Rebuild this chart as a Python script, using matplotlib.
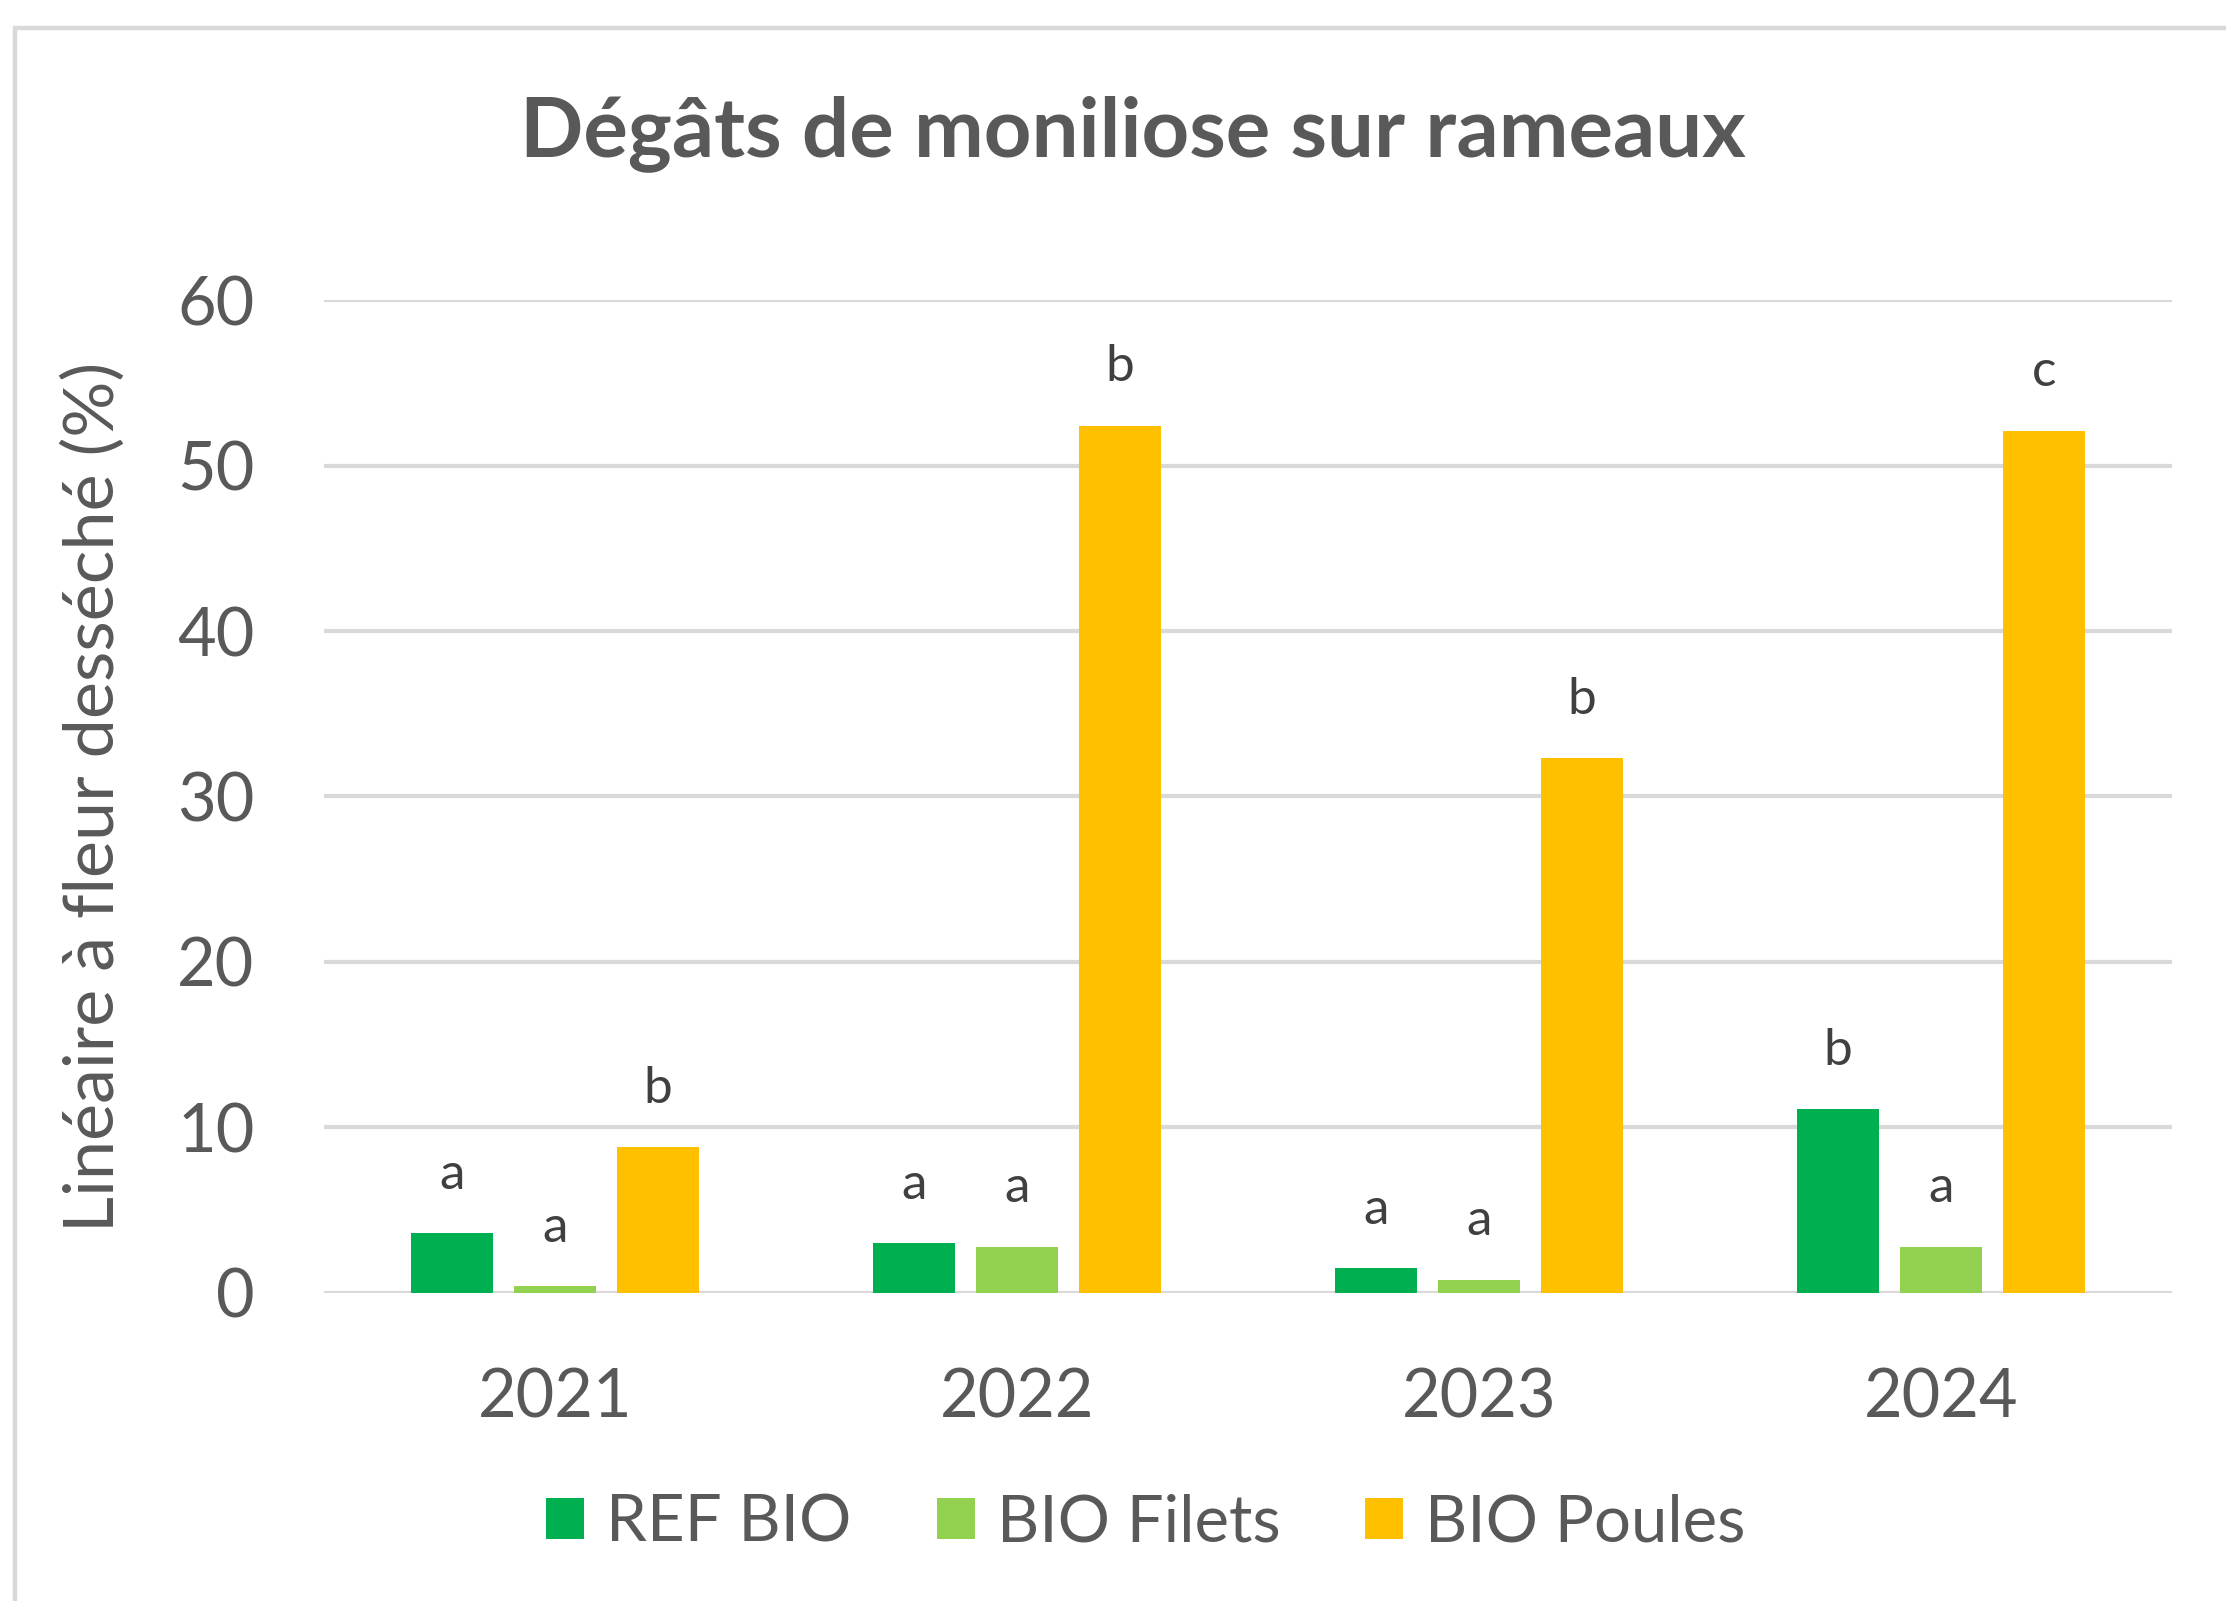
import matplotlib.pyplot as plt
import matplotlib.patches as mpatches
import numpy as np

plt.rcParams['font.family'] = ['Lato', 'DejaVu Sans']

# Data
years = ['2021', '2022', '2023', '2024']
series = ['REF BIO', 'BIO Filets', 'BIO Poules']
ref_bio = [3.6, 3.0, 1.5, 11.1]
bio_filets = [0.4, 2.8, 0.8, 2.8]
bio_poules = [8.8, 52.4, 32.3, 52.1]
letters_ref = ['a', 'a', 'a', 'b']
letters_filets = ['a', 'a', 'a', 'a']
letters_poules = ['b', 'b', 'b', 'c']

colors = ['#00B050', '#92D050', '#FFC000']
grey = '#595959'

fig = plt.figure(figsize=(22.26, 16.01), dpi=100)
ax = fig.add_axes([0.1455, 0.1924, 0.8302, 0.6202])

# chart border (cut off on the right and bottom)
border = mpatches.Rectangle((15/2226, -0.1), 1.2, 1 - 28/1601 + 0.1,
                            transform=fig.transFigure, fill=False,
                            edgecolor='#d9d9d9', lw=3.2, clip_on=False)
fig.patches.append(border)

x = np.arange(len(years))
step = 0.223
width = 0.178
values = [ref_bio, bio_filets, bio_poules]
letters = [letters_ref, letters_filets, letters_poules]

for i in range(3):
    xs = x + (i - 1) * step
    ax.bar(xs, values[i], width, color=colors[i], label=series[i], zorder=3)
    for xi, v, t in zip(xs, values[i], letters[i]):
        ax.annotate(t, (xi, v), xytext=(0, 32), textcoords='offset points',
                    ha='center', va='baseline', fontsize=37, color='#404040')

ax.set_xlim(-0.5, 3.5)
ax.set_ylim(0, 60)
ax.set_yticks(range(0, 61, 10))
ax.set_xticks(x)
ax.set_xticklabels(years)
ax.tick_params(axis='both', length=0, labelsize=48, labelcolor=grey)
ax.tick_params(axis='y', pad=50)
ax.tick_params(axis='x', pad=54)
ax.grid(axis='y', color='#d9d9d9', lw=3, zorder=0)
for s in ax.spines.values():
    s.set_visible(False)

ax.set_ylabel('Linéaire à fleur desséché (%)', fontsize=50.5, color=grey,
              va='center')
ax.yaxis.set_label_coords(-0.1245, 0.5)

fig.text(1133/2226, 1 - 134/1601, 'Dégâts de moniliose sur rameaux',
         ha='center', va='center', fontsize=60, fontweight='bold', color=grey)

fig.legend(loc='center', bbox_to_anchor=(1146/2226, 1 - 1523/1601), ncol=3,
           frameon=False, fontsize=47, labelcolor=grey,
           handlelength=0.58, handleheight=0.58, handletextpad=0.34,
           columnspacing=1.3)

fig.savefig('out.png', dpi=100)
